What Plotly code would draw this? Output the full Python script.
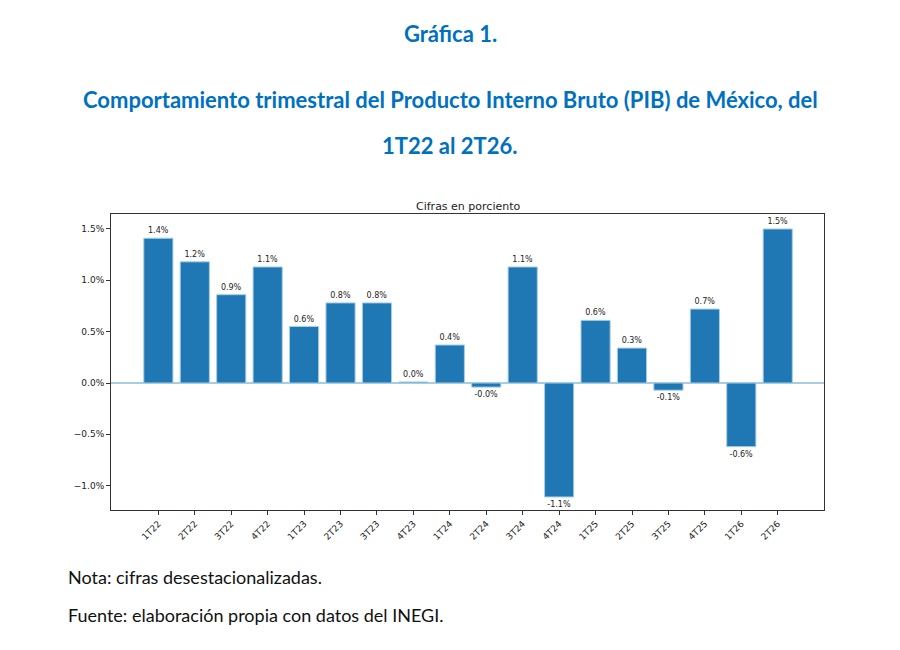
import plotly.graph_objects as go

trimestres = ["1T22", "2T22", "3T22", "4T22", "1T23", "2T23", "3T23", "4T23", "1T24",
              "2T24", "3T24", "4T24", "1T25", "2T25", "3T25", "4T25", "1T26", "2T26"]
variacion = [1.41, 1.18, 0.86, 1.13, 0.55, 0.78, 0.78, 0.01, 0.37,
             -0.04, 1.13, -1.11, 0.61, 0.34, -0.07, 0.72, -0.62, 1.50]
ytick_vals = [-1.0, -0.5, 0.0, 0.5, 1.0, 1.5]

azul = "#0070C0"
etiquetas = [("%.1f%%" % v) for v in variacion]
posiciones = list(range(len(trimestres)))
# matplotlib usa el signo menos tipografico en los ejes
ytick_text = [("%.1f%%" % v).replace("-", "\u2212") for v in ytick_vals]

fig = go.Figure()
fig.add_trace(go.Bar(
    x=posiciones, y=variacion, width=0.8,
    marker=dict(color="#1f77b4", line=dict(color="#a6cee3", width=1)),
    text=etiquetas, textposition="outside", cliponaxis=False,
    textfont=dict(family="DejaVu Sans", size=8, color="#222"),
))

# la pagina tiene 8px de margen, por eso 892x642
fig.update_layout(
    width=892, height=642,
    paper_bgcolor="white", plot_bgcolor="white",
    margin=dict(l=103, r=76, t=206, b=140),
    showlegend=False,
    font=dict(family="DejaVu Sans", color="#222"),
)
fig.update_xaxes(
    range=[-1.3, 18.27], tickvals=posiciones, ticktext=trimestres, tickangle=-45,
    showgrid=False, zeroline=False, showline=True, linecolor="#333", linewidth=1, mirror=True,
    ticks="outside", ticklen=4, tickcolor="#333", tickfont=dict(size=9),
)
fig.update_yaxes(
    range=[-1.237, 1.646], tickvals=ytick_vals, ticktext=ytick_text,
    showgrid=False, zeroline=True, zerolinecolor="#a6cee3", zerolinewidth=2,
    showline=True, linecolor="#333", linewidth=1, mirror=True,
    ticks="outside", ticklen=4, tickcolor="#333", tickfont=dict(size=9),
)

titulo = dict(family="Lato", size=22, color=azul)
nota = dict(family="Lato", size=18, color="#111")
anots = [
    ("<b>Gráfica 1.</b>", 0.4755, 1.611, "center", titulo),
    ("<b>Comportamiento trimestral del Producto Interno Bruto (PIB) de México, del</b>", 0.4755, 1.3885, "center", titulo),
    ("<b>1T22 al 2T26.</b>", 0.4755, 1.233, "center", titulo),
    ("Cifras en porciento", 0.5, 1.027, "center", dict(family="DejaVu Sans", size=11, color="#222")),
    ("Nota: cifras desestacionalizadas.", -0.063, -0.226, "left", nota),
    ("Fuente: elaboración propia con datos del INEGI.", -0.063, -0.355, "left", nota),
]
for texto, x, y, xa, f in anots:
    fig.add_annotation(text=texto, x=x, y=y, xref="paper", yref="paper",
                       xanchor=xa, yanchor="middle", showarrow=False, font=f)

fig.write_html("out.html")
